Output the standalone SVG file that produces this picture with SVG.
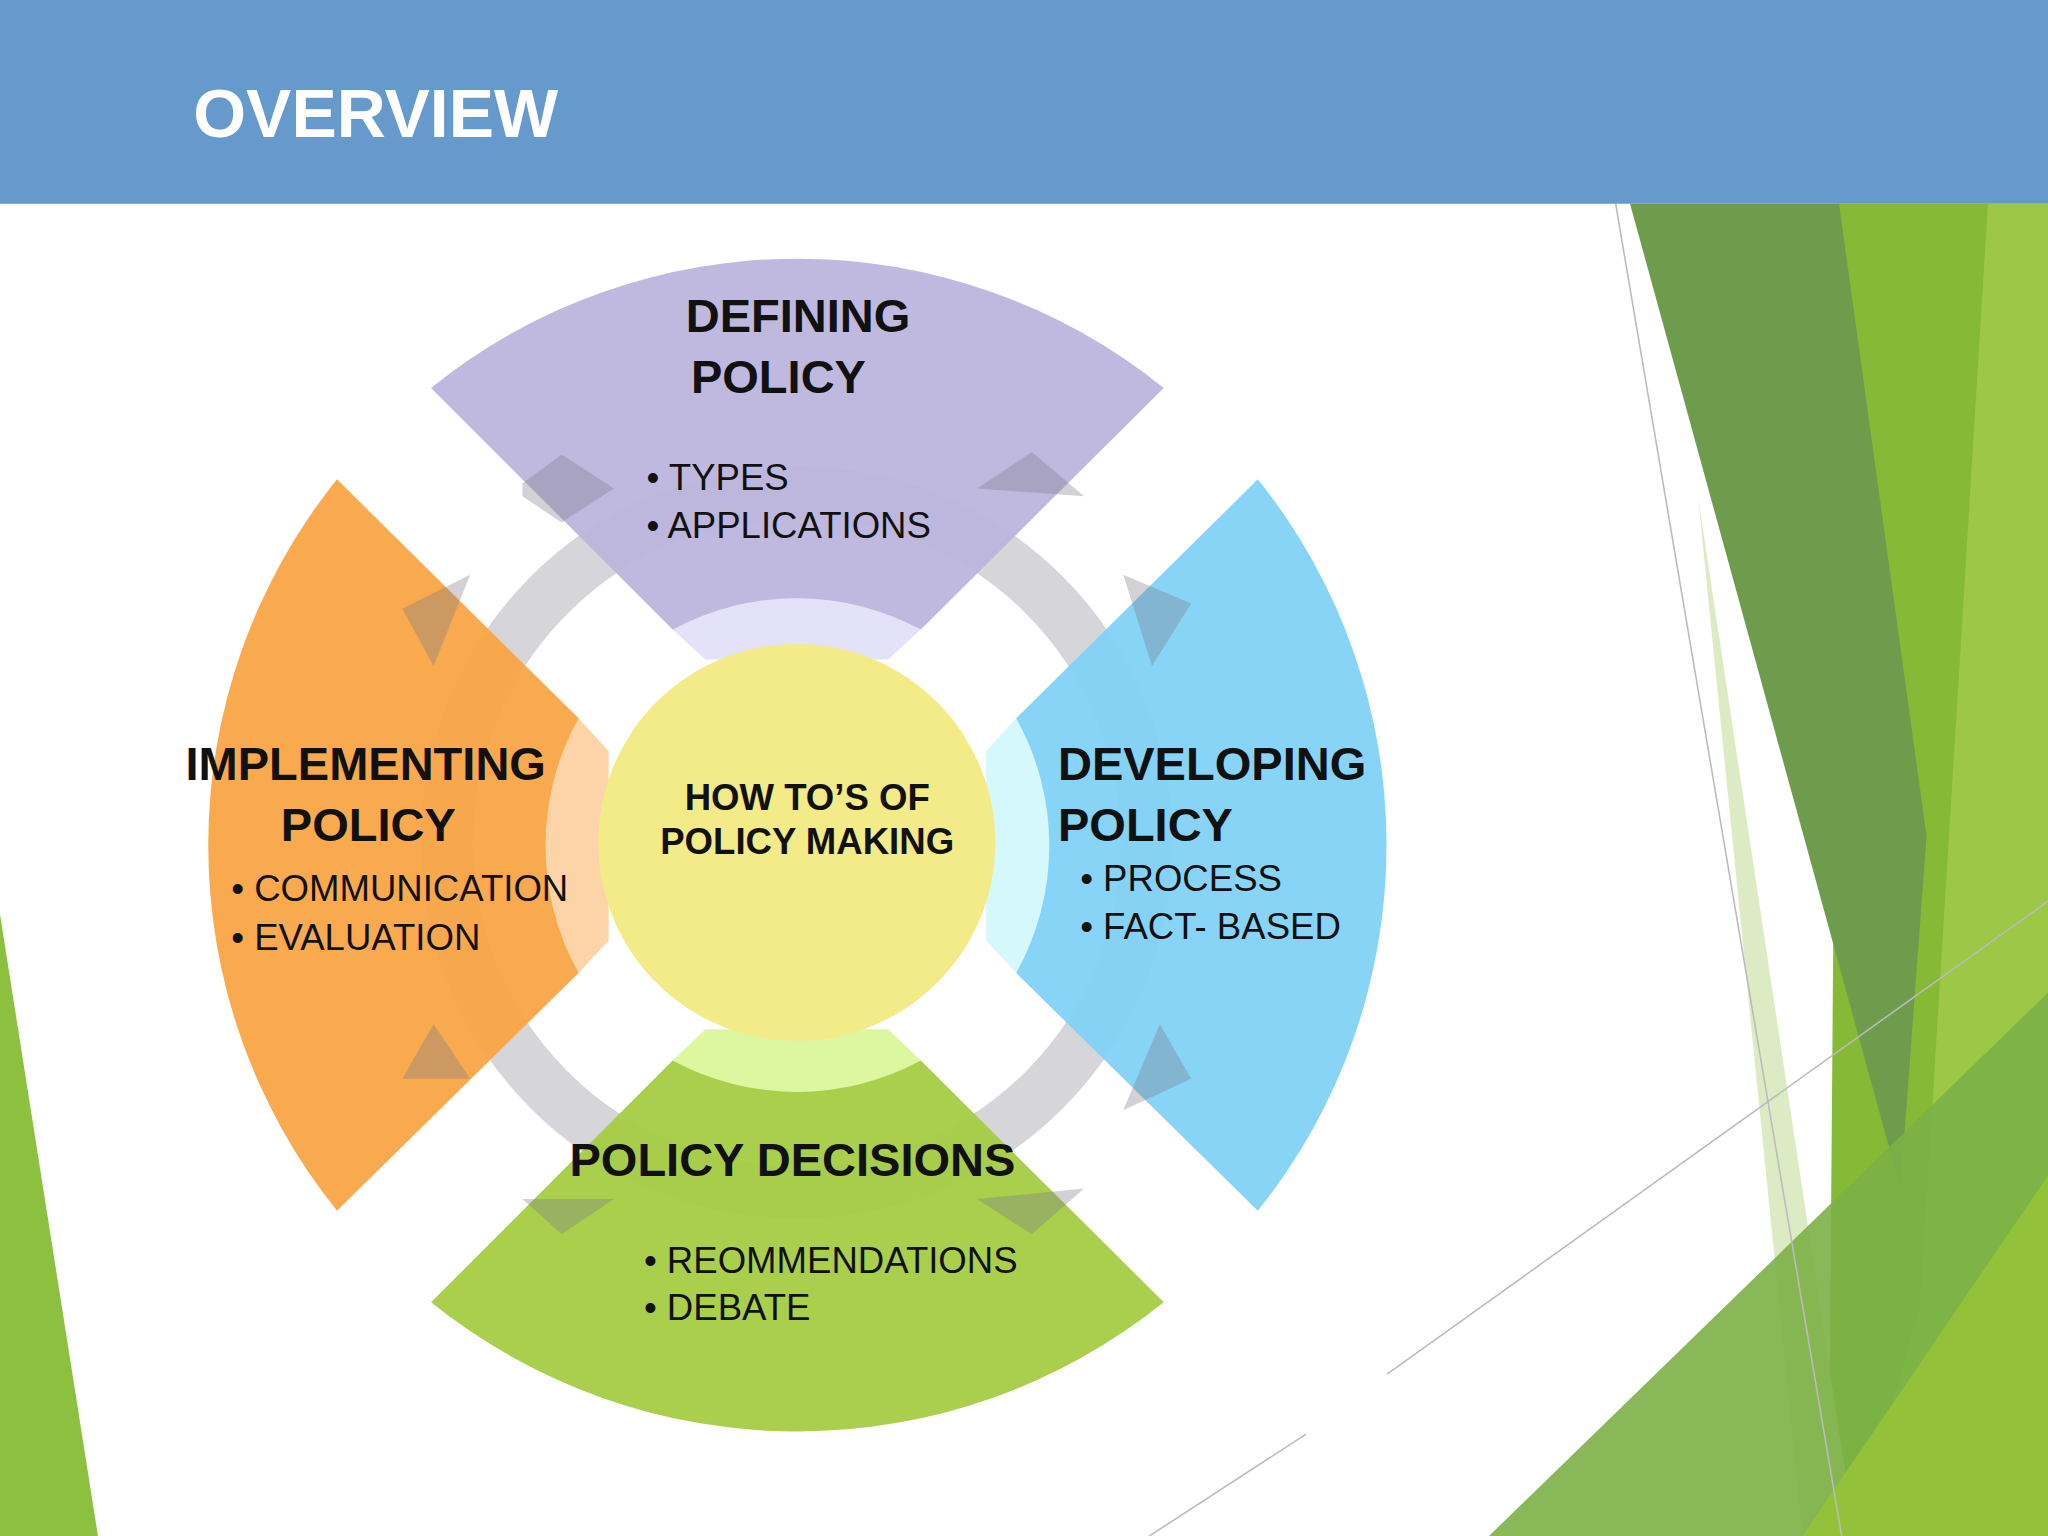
<svg xmlns="http://www.w3.org/2000/svg" width="2048" height="1536" viewBox="0 0 2048 1536">
<style>
.h{font-family:"Liberation Sans",Arial,sans-serif;font-weight:bold;font-size:36px;fill:#111}
.b{font-family:"Liberation Sans",Arial,sans-serif;font-size:28px;fill:#111}
.c{font-family:"Liberation Sans",Arial,sans-serif;font-weight:bold;font-size:28px;fill:#111;text-anchor:middle}
.arr{fill:#7a7a8a;opacity:0.35}
</style>
<rect width="2048" height="1536" fill="#fff"/>
<g transform="scale(1.30612)">
<g id="decor">
<polygon points="0,700 75,1176 0,1176" fill="#8DC03F"/>
<polygon points="1520,156 1568,156 1568,1176 1440,1176" fill="#9DC746"/>
<polygon points="1408,156 1522,156 1470,1000 1420,1176 1400,1176" fill="#86B935"/>
<polygon points="1248,156 1408,156 1475,640 1455,910" fill="#6F9B4C"/>
<polygon points="1300,380 1420,1176 1380,1176" fill="#DCEBC4"/>
<polygon points="1140,1176 1568,760 1568,1176" fill="#7BB046" opacity="0.9"/>
<polygon points="1380,1176 1568,900 1568,1176" fill="#93C23A"/>
<g stroke="#bbb" stroke-width="1.2" fill="none">
<line x1="1237" y1="156" x2="1410" y2="1176"/>
<line x1="1062" y1="1052" x2="1568" y2="690"/>
<line x1="880" y1="1176" x2="1000" y2="1098"/>
</g>
</g>
<rect id="header" x="0" y="0" width="1568" height="156" fill="#6699CC"/>
<text x="148" y="105" font-family="Liberation Sans,Arial,sans-serif" font-weight="bold" font-size="52" fill="#fff">OVERVIEW</text>
<g id="connectors">
<circle cx="610" cy="645" r="268" fill="none" stroke="#D6D6DA" stroke-width="40"/>
</g>
<g id="defining">
<path d="M330,297 A447,447 0 0 1 891,297 L705,482 L515,482 Z" fill="#BDB5DD" opacity="0.95"/>
<path d="M515,482 A200,200 0 0 1 705,482 L680,505 L540,505 Z" fill="#E4E2F8"/>
<text class="h" x="525" y="254">DEFINING</text><text class="h" x="529" y="301">POLICY</text>
<text class="b" x="495" y="375">• TYPES</text><text class="b" x="495" y="412">• APPLICATIONS</text>
</g>
<g id="developing">
<path d="M963,367 A447,447 0 0 1 963,927 L778,745 L778,550 Z" fill="#82D2F5" opacity="0.95"/>
<path d="M778,550 A200,200 0 0 1 778,745 L755,720 L755,575 Z" fill="#D5F8FC"/>
<text class="h" x="810" y="597">DEVELOPING</text><text class="h" x="810" y="644">POLICY</text>
<text class="b" x="827" y="682">• PROCESS</text><text class="b" x="827" y="719">• FACT- BASED</text>
</g>
<g id="decisions">
<path d="M891,997 A447,447 0 0 1 330,997 L515,812 L705,812 Z" fill="#A5CC42" opacity="0.95"/>
<path d="M705,812 A200,200 0 0 1 515,812 L540,788 L680,788 Z" fill="#DDF7A0"/>
<text class="h" x="436" y="900">POLICY DECISIONS</text>
<text class="b" x="493" y="975">• REOMMENDATIONS</text><text class="b" x="493" y="1011">• DEBATE</text>
</g>
<g id="implementing">
<path d="M258,927 A447,447 0 0 1 258,367 L443,550 L443,745 Z" fill="#F9A545" opacity="0.95"/>
<path d="M443,745 A200,200 0 0 1 443,550 L466,575 L466,720 Z" fill="#FDD3A8"/>
<text class="h" x="142" y="597">IMPLEMENTING</text><text class="h" x="215" y="644">POLICY</text>
<text class="b" x="177" y="690">• COMMUNICATION</text><text class="b" x="177" y="727">• EVALUATION</text>
</g>
<g id="arrows">
<polygon class="arr" points="430,348 470,374 430,400 400,380 400,370"/>
<polygon class="arr" points="790,346 830,380 748,374"/>
<polygon class="arr" points="860,440 912,462 882,510"/>
<polygon class="arr" points="888,784 912,826 860,850"/>
<polygon class="arr" points="790,945 830,910 748,918"/>
<polygon class="arr" points="430,945 400,918 470,918"/>
<polygon class="arr" points="332,784 360,826 308,826"/>
<polygon class="arr" points="332,510 308,466 360,440"/>
</g>
<g id="center">
<circle cx="610" cy="645" r="152" fill="#F3EA88"/>
<text class="c" x="618" y="620">HOW TO’S OF</text><text class="c" x="618" y="654">POLICY MAKING</text>
</g>
</g>
</svg>
